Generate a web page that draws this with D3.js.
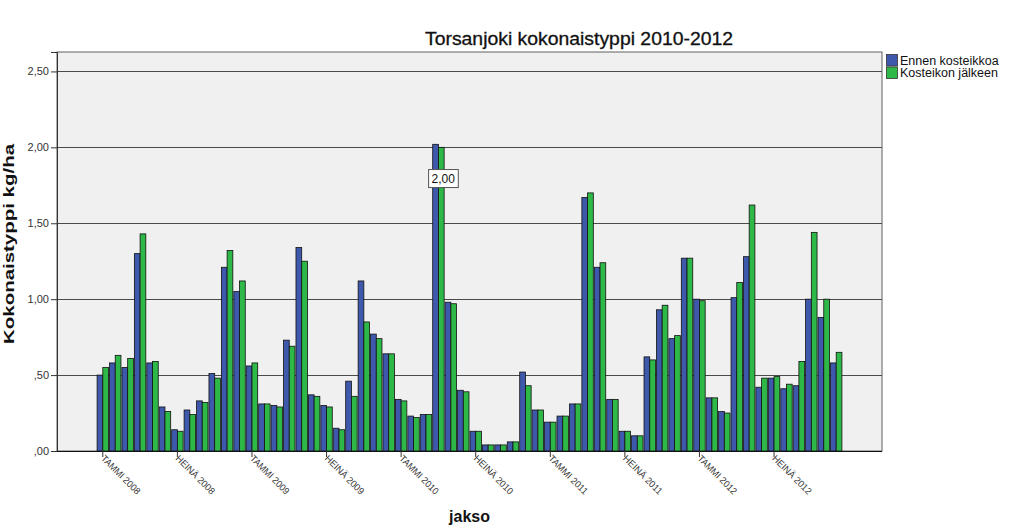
<!DOCTYPE html>
<html>
<head>
<meta charset="utf-8">
<script src="https://cdn.jsdelivr.net/npm/d3@7"></script>
<style>
  body { margin: 0; background: #fff; }
  svg { display: block; font-family: "Liberation Sans", Arial, sans-serif; }
</style>
</head>
<body>
<svg id="chart" width="1009" height="532"></svg>
<script>
const monthNames = ["TAMMI","HELMI","MAALIS","HUHTI","TOUKO","KESÄ","HEINÄ","ELO","SYYS","LOKA","MARRAS","JOULU"];
const years = [2008, 2009, 2010, 2011, 2012];
const months = [];
years.forEach(y => monthNames.forEach(m => months.push(m + " " + y)));

const seriesNames = ["Ennen kosteikkoa", "Kosteikon jälkeen"];
const ennen = [0.50,0.58,0.55,1.30,0.58,0.29,0.14,0.27,0.33,0.51,1.21,1.05,0.56,0.31,0.30,0.73,1.34,0.37,0.30,0.15,0.46,1.12,0.77,0.64,0.34,0.23,0.24,2.02,0.98,0.40,0.13,0.04,0.04,0.06,0.52,0.27,0.19,0.23,0.31,1.67,1.21,0.34,0.13,0.10,0.62,0.93,0.74,1.27,1.00,0.35,0.26,1.01,1.28,0.42,0.48,0.41,0.43,1.00,0.88,0.58];
const jalkeen = [0.55,0.63,0.61,1.43,0.59,0.26,0.13,0.24,0.32,0.48,1.32,1.12,0.58,0.31,0.29,0.69,1.25,0.36,0.29,0.14,0.36,0.85,0.74,0.64,0.33,0.22,0.24,2.00,0.97,0.39,0.13,0.04,0.04,0.06,0.43,0.27,0.19,0.23,0.31,1.70,1.24,0.34,0.13,0.10,0.60,0.96,0.76,1.27,0.99,0.35,0.25,1.11,1.62,0.48,0.49,0.44,0.59,1.44,1.00,0.65];
const yTicks = [0, 0.5, 1.0, 1.5, 2.0, 2.5];
const xTickLabels = months.filter((m, i) => i % 6 === 0);
const annotateIndex = 27;

const colors = ["#3E58AC", "#2EB848"];
const svg = d3.select("#chart");
const L = 57, R = 882, T = 52, B = 451;

const x0 = d3.scaleBand().domain(months).range([L, R]).paddingInner(0.08).paddingOuter(3.225);
const x1 = d3.scaleBand().domain(seriesNames).range([0, x0.bandwidth()]);
const y = d3.scaleLinear().domain([0, 2.628]).range([B, T]);
const fmt = v => d3.format(".2f")(v).replace(/^0\./, ".").replace(".", ",");

// plot background
svg.append("rect").attr("x", L).attr("y", T).attr("width", R - L).attr("height", B - T)
  .attr("fill", "#f0f0f0").attr("stroke", "#606060").attr("stroke-width", 1);

// gridlines
svg.append("g").selectAll("line").data(yTicks.filter(d => d > 0)).join("line")
  .attr("x1", L).attr("x2", R)
  .attr("y1", d => Math.round(y(d)) + 0.5).attr("y2", d => Math.round(y(d)) + 0.5)
  .attr("stroke", "#4a4a4a").attr("stroke-width", 1.2);

// bars
const data = months.map((m, i) => ({ m, vals: [ennen[i], jalkeen[i]] }));
const groups = svg.append("g").selectAll("g").data(data).join("g")
  .attr("transform", d => `translate(${x0(d.m)},0)`);
groups.selectAll("rect").data(d => d.vals.map((v, k) => ({ k, v }))).join("rect")
  .attr("x", d => x1(seriesNames[d.k]))
  .attr("width", x1.bandwidth())
  .attr("y", d => y(d.v))
  .attr("height", d => B - y(d.v))
  .attr("fill", d => colors[d.k])
  .attr("stroke", "#111").attr("stroke-width", 0.8);

// y axis
const yAxis = d3.axisLeft(y).tickValues(yTicks).tickFormat(fmt).tickSize(6).tickPadding(2);
const ya = svg.append("g").attr("transform", `translate(${L},0)`).call(yAxis);
ya.select(".domain").attr("stroke", "#333");
ya.selectAll(".tick line").attr("stroke", "#333");
ya.selectAll("text").attr("font-size", 11).attr("fill", "#333").attr("font-family", "Liberation Sans, Arial, sans-serif");

// x axis
const xAxis = d3.axisBottom(x0).tickValues(xTickLabels).tickSize(6).tickPadding(2);
const xa = svg.append("g").attr("transform", `translate(0,${B})`).call(xAxis);
xa.select(".domain").attr("stroke", "#111").attr("d", `M${L},0.5H${R}`);
xa.selectAll(".tick line").attr("stroke", "#333").attr("y1", 0);
xa.selectAll("text")
  .attr("font-size", 9.5).attr("fill", "#333").attr("font-family", "Liberation Sans, Arial, sans-serif")
  .attr("text-anchor", "start")
  .attr("transform", "rotate(45)")
  .attr("x", 4).attr("y", 4).attr("dy", "0.35em")
  .attr("textLength", 51).attr("lengthAdjust", "spacingAndGlyphs");

// annotation box
const ax = x0(months[annotateIndex]) + x1(seriesNames[1]) + x1.bandwidth() / 2 + 2;
const ay = y(jalkeen[annotateIndex]) + 31;
const ann = svg.append("g");
const annText = ann.append("text").attr("x", ax).attr("y", ay).attr("text-anchor", "middle")
  .attr("dy", "0.35em").attr("font-size", 12).attr("fill", "#111").text(fmt(jalkeen[annotateIndex]));
const bb = annText.node().getBBox();
ann.insert("rect", "text").attr("x", bb.x - 3).attr("y", bb.y - 2).attr("width", bb.width + 6).attr("height", bb.height + 4)
  .attr("fill", "#fff").attr("stroke", "#555").attr("stroke-width", 1);

// title
svg.append("text").attr("x", 579).attr("y", 45).attr("text-anchor", "middle")
  .attr("font-size", 17.5).attr("fill", "#111").attr("stroke", "#111").attr("stroke-width", 0.3)
  .attr("textLength", 308).attr("lengthAdjust", "spacingAndGlyphs")
  .text("Torsanjoki kokonaistyppi 2010-2012");

// axis titles
svg.append("text").attr("transform", "translate(14,244) rotate(-90)").attr("text-anchor", "middle")
  .attr("font-size", 15.5).attr("font-weight", "bold").attr("fill", "#111")
  .attr("textLength", 200).attr("lengthAdjust", "spacingAndGlyphs").text("Kokonaistyppi kg/ha");
svg.append("text").attr("x", (L + R) / 2).attr("y", 522).attr("text-anchor", "middle")
  .attr("font-size", 16).attr("font-weight", "bold").attr("fill", "#111").text("jakso");

// legend
const lg = svg.append("g").attr("transform", "translate(886,54)");
seriesNames.forEach((n, i) => {
  lg.append("rect").attr("x", 0.5).attr("y", i * 12.5 + 0.5).attr("width", 11).attr("height", 11.5)
    .attr("fill", colors[i]).attr("stroke", "#333").attr("stroke-width", 0.8);
  lg.append("text").attr("x", 14).attr("y", i * 12.5 + 6.5).attr("dy", "0.35em")
    .attr("font-size", 12.5).attr("fill", "#111").text(n);
});
</script>
</body>
</html>
